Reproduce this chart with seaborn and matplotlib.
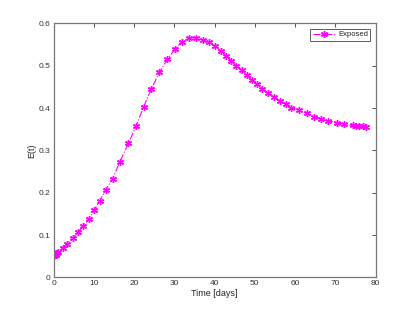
import numpy as np
import pandas as pd
import matplotlib
matplotlib.use("Agg")
import matplotlib.pyplot as plt
import seaborn as sns

time_days = [0.0, 0.2, 0.5, 0.8, 1.2, 2.3, 3.4, 4.8, 6.1, 7.4, 8.7, 10.1, 11.5,
             13.0, 14.7, 16.5, 18.6, 20.5, 22.4, 24.3, 26.3, 28.3, 30.2, 31.9,
             33.7, 35.5, 37.1, 38.6, 40.1, 41.6, 42.8, 44.2, 45.4, 46.7, 48.0,
             49.2, 50.5, 51.9, 53.3, 54.8, 56.2, 57.8, 59.1, 60.9, 62.9, 64.7,
             66.4, 68.3, 70.3, 72.1, 74.3, 75.2, 76.0, 76.8, 77.7]
exposed = [0.050, 0.052, 0.054, 0.057, 0.0605, 0.069, 0.080, 0.094, 0.107,
           0.121, 0.137, 0.159, 0.180, 0.2075, 0.2335, 0.2735, 0.3165, 0.357,
           0.403, 0.445, 0.4845, 0.515, 0.540, 0.556, 0.5655, 0.5655, 0.561,
           0.555, 0.547, 0.535, 0.524, 0.512, 0.500, 0.490, 0.4775, 0.4665,
           0.457, 0.446, 0.436, 0.4255, 0.4175, 0.4095, 0.401, 0.3955, 0.388,
           0.380, 0.375, 0.3695, 0.3655, 0.362, 0.359, 0.358, 0.357, 0.3565,
           0.356]
series_name = "Exposed"

df = pd.DataFrame({"t": time_days, "E": exposed, "series": series_name})

sns.set_style("white")
plt.rcParams["font.family"] = ["Liberation Sans", "DejaVu Sans"]

fig = plt.figure(figsize=(4.15, 3.12), dpi=100)
ax = fig.add_axes([0.129, 0.111, 0.776, 0.814])

sns.lineplot(data=df, x="t", y="E", hue="series", palette=["#ff00ff"],
             ax=ax, marker=(6, 2, 0), markersize=5, markeredgecolor="#ff00ff",
             markeredgewidth=1.0, linestyle="-.", linewidth=0.8, sort=False,
             legend=True)

ax.set_xlim(0, 80)
ax.set_ylim(0, 0.6)
ax.set_xticks(np.arange(0, 81, 10))
ax.set_yticks(np.arange(0, 0.61, 0.1))
ax.set_yticklabels(["0", "0.1", "0.2", "0.3", "0.4", "0.5", "0.6"])
ax.tick_params(direction="in", length=3, width=0.6, labelsize=6,
               top=True, right=True, colors="#333333", pad=2)
for s in ax.spines.values():
    s.set_color("#777777")
    s.set_linewidth(0.9)
ax.set_xlabel("Time [days]", fontsize=6.5, labelpad=1, color="#222222")
ax.set_ylabel("E(t)", fontsize=6.5, labelpad=2, color="#222222")

leg = ax.legend(loc="upper right", fontsize=5.5, frameon=True, fancybox=False,
                handlelength=3, borderpad=0.3, borderaxespad=0.7,
                handletextpad=0.3)
leg.get_frame().set_edgecolor("#333333")
leg.get_frame().set_linewidth(0.7)

fig.savefig("out.png", dpi=100)
